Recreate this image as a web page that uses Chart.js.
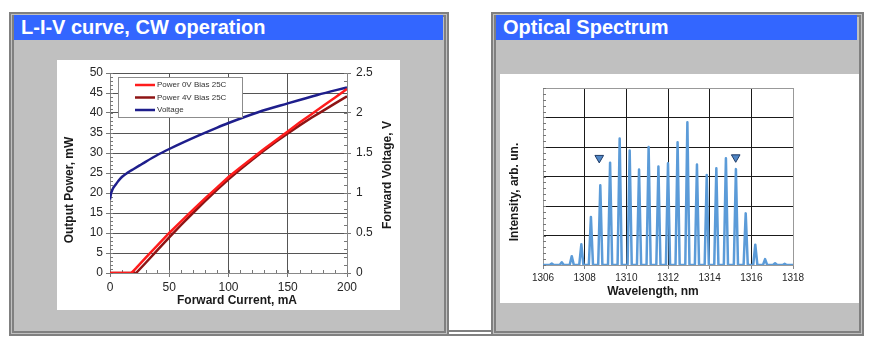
<!DOCTYPE html>
<html>
<head>
<meta charset="utf-8">
<title>Laser datasheet charts</title>
<script src="https://cdn.jsdelivr.net/npm/chart.js@4.4.1/dist/chart.umd.min.js"></script>
<style>
html, body { margin: 0; padding: 0; background: #fff; }
body { width: 872px; height: 350px; position: relative; overflow: hidden; font-family: Arial, "Liberation Sans", sans-serif; }
.frame { position: absolute; box-sizing: border-box; border: 5px double #808080; background: #c0c0c0; }
.head { position: absolute; box-sizing: border-box; height: 25px; line-height: 25px; padding-left: 7px; background: #3366ff; color: #fff; font-weight: bold; font-size: 20px; white-space: nowrap; }
.sheet { position: absolute; background: #fff; }
.gap { position: absolute; box-sizing: border-box; border-top: 2px solid #808080; border-bottom: 2px solid #808080; }
canvas { display: block; }
</style>
</head>
<body>
<div class="frame" style="left:9px;top:12px;width:440px;height:324px"></div>
<div class="head" style="left:14px;top:15px;width:429px">L-I-V curve, CW operation</div>
<div class="sheet" style="left:57px;top:60px;width:343px;height:250px"><canvas id="livChart" width="343" height="250"></canvas></div>

<div class="gap" style="left:449px;top:330px;width:42px;height:6px"></div>

<div class="frame" style="left:491px;top:12px;width:373px;height:324px"></div>
<div class="head" style="left:496px;top:15px;width:361px">Optical Spectrum</div>
<div class="sheet" style="left:500px;top:74px;width:359px;height:229px"><canvas id="spectrumChart" width="359" height="229"></canvas></div>

<script>
// L-I-V: forward current (mA) against optical power (mW) for two bias settings
var currentMA = [0, 10, 18, 20, 22, 30, 40, 50, 60, 70, 80, 90, 100, 110, 120, 130, 140, 150, 160, 170, 180, 190, 200];
var power0V = [0, 0, 0, 0.6, 1.2, 3.8, 6.9, 10, 12.9, 15.8, 18.6, 21.3, 24, 26.4, 28.7, 31, 33.2, 35.4, 37.6, 39.7, 41.8, 43.9, 46];
var power4V = [0, 0, 0, 0, 0, 2.5, 5.7, 8.9, 12, 15, 17.9, 20.7, 23.4, 25.9, 28.3, 30.6, 32.8, 34.9, 36.9, 38.8, 40.6, 42.4, 44.2];

// forward voltage (V), sampled more densely near the turn-on knee
var voltCurrentMA = [0, 1, 2, 3, 5, 7, 10, 15, 20, 25, 30, 40, 50, 60, 75, 90, 100, 125, 150, 175, 200];
var forwardVoltage = [0.92, 1.0, 1.04, 1.07, 1.11, 1.15, 1.2, 1.255, 1.3, 1.345, 1.39, 1.475, 1.55, 1.62, 1.72, 1.815, 1.875, 2.01, 2.12, 2.225, 2.32];

var livLabels = ['Power 0V Bias 25C', 'Power 4V Bias 25C', 'Voltage'];

// Optical spectrum: longitudinal modes (nm) and their relative intensity
var peakWavelengthNm = [1306.42, 1306.90, 1307.38, 1307.84, 1308.30, 1308.75, 1309.22, 1309.68, 1310.16, 1310.61, 1311.07, 1311.54, 1312.00,
	1312.46, 1312.93, 1313.39, 1313.86, 1314.32, 1314.78, 1315.26, 1315.73, 1316.19, 1316.66, 1317.14, 1317.60];
var peakIntensity = [0.05, 0.09, 0.3, 0.7, 1.63, 2.7, 3.47, 4.29, 3.88, 3.24, 4.0, 3.34, 3.45,
	4.16, 4.84, 3.41, 3.05, 3.28, 3.62, 3.25, 1.75, 0.69, 0.2, 0.06, 0.04];

// the two down-pointing markers above the spectrum
var markerWavelengthNm = [1308.70, 1315.25];
var markerIntensity = [3.63, 3.65];

var wavelengthTicks = ['1306', '1308', '1310', '1312', '1314', '1316', '1318'];

Chart.defaults.font.family = 'Arial, "Liberation Sans", sans-serif';
Chart.defaults.color = '#262626';

function toPoints(xs, ys) {
	return xs.map(function(x, i) {
		return { x: x, y: ys[i] };
	});
}

// small inward ticks between the labelled ones
var minorTicks = {
	id: 'minorTicks',
	beforeDatasetsDraw: function(chart, args, opts) {
		var ctx = chart.ctx;
		ctx.save();
		ctx.strokeStyle = opts.color || '#666';
		ctx.lineWidth = 1;
		(opts.axes || []).forEach(function(a) {
			var scale = chart.scales[a.axis];
			ctx.beginPath();
			for (var k = 0; ; k++) {
				var v = scale.min + k * a.step;
				if (v > scale.max + 1e-9) break;
				var p = Math.round(scale.getPixelForValue(v)) + 0.5;
				if (scale.position === 'left') {
					ctx.moveTo(scale.right, p); ctx.lineTo(scale.right + a.len, p);
				} else if (scale.position === 'right') {
					ctx.moveTo(scale.left, p); ctx.lineTo(scale.left - a.len, p);
				} else {
					ctx.moveTo(p, scale.top); ctx.lineTo(p, scale.top - a.len);
				}
			}
			ctx.stroke();
		});
		ctx.restore();
	}
};

// outline round the plot area
var plotFrame = {
	id: 'plotFrame',
	beforeDatasetsDraw: function(chart, args, opts) {
		if (!opts.color) return;
		var a = chart.chartArea, ctx = chart.ctx;
		ctx.save();
		ctx.strokeStyle = opts.color;
		ctx.lineWidth = 1;
		ctx.strokeRect(Math.round(a.left) + 0.5, Math.round(a.top) + 0.5, Math.round(a.right - a.left), Math.round(a.bottom - a.top));
		ctx.restore();
	}
};

// axis captions, placed freely
var captions = {
	id: 'captions',
	afterDraw: function(chart, args, opts) {
		var ctx = chart.ctx;
		ctx.save();
		ctx.font = 'bold 12px Arial, "Liberation Sans", sans-serif';
		ctx.fillStyle = '#1a1a1a';
		ctx.textAlign = 'center';
		ctx.textBaseline = 'middle';
		(opts.items || []).forEach(function(it) {
			ctx.save();
			ctx.translate(it.x, it.y);
			if (it.rotate) ctx.rotate(it.rotate * Math.PI / 180);
			ctx.fillText(it.text, 0, 0);
			ctx.restore();
		});
		ctx.restore();
	}
};

// boxed legend sitting inside the plot
var insetLegend = {
	id: 'insetLegend',
	afterDraw: function(chart, args, opts) {
		if (!opts.box) return;
		var ctx = chart.ctx, b = opts.box;
		ctx.save();
		ctx.fillStyle = '#fff';
		ctx.fillRect(b.x, b.y, b.w, b.h);
		ctx.strokeStyle = '#8c8c8c';
		ctx.lineWidth = 1;
		ctx.strokeRect(b.x + 0.5, b.y + 0.5, b.w, b.h);
		ctx.font = '8px Arial, "Liberation Sans", sans-serif';
		ctx.textBaseline = 'middle';
		chart.data.datasets.forEach(function(ds, i) {
			var y = b.y + opts.firstRow + i * opts.rowHeight;
			ctx.strokeStyle = ds.borderColor;
			ctx.lineWidth = 2.5;
			ctx.beginPath();
			ctx.moveTo(b.x + opts.swatchStart, y);
			ctx.lineTo(b.x + opts.swatchStart + opts.swatchLength, y);
			ctx.stroke();
			ctx.fillStyle = '#333';
			ctx.fillText(ds.label, b.x + opts.swatchStart + opts.swatchLength + 2, y);
		});
		ctx.restore();
	}
};

new Chart(document.getElementById('livChart'), {
	type: 'line',
	data: {
		datasets: [{
			label: livLabels[0],
			data: toPoints(currentMA, power0V),
			borderColor: '#ff1c1c',
			yAxisID: 'y'
		}, {
			label: livLabels[1],
			data: toPoints(currentMA, power4V),
			borderColor: '#8e1414',
			yAxisID: 'y'
		}, {
			label: livLabels[2],
			data: toPoints(voltCurrentMA, forwardVoltage),
			borderColor: '#1e1e8c',
			cubicInterpolationMode: 'monotone',
			yAxisID: 'y2'
		}]
	},
	options: {
		responsive: false,
		animation: false,
		layout: { padding: { top: 13, left: 0, right: 0, bottom: 0 } },
		elements: {
			point: { radius: 0 },
			line: { borderWidth: 2.5, fill: false }
		},
		plugins: {
			legend: { display: false },
			tooltip: { enabled: false },
			minorTicks: {
				color: '#777',
				axes: [
					{ axis: 'y', step: 1, len: 3 },
					{ axis: 'y2', step: 0.1, len: 3 },
					{ axis: 'x', step: 10, len: 3 }
				]
			},
			captions: {
				items: [
					{ text: 'Forward Current, mA', x: 180, y: 241 },
					{ text: 'Output Power, mW', x: 13, y: 130, rotate: -90 },
					{ text: 'Forward Voltage, V', x: 331, y: 115, rotate: -90 }
				]
			},
			insetLegend: {
				box: { x: 61, y: 17, w: 124, h: 40 },
				firstRow: 8,
				rowHeight: 12.5,
				swatchStart: 17,
				swatchLength: 20
			}
		},
		scales: {
			x: {
				type: 'linear',
				min: 0,
				max: 200,
				ticks: { stepSize: 50, padding: 3, font: { size: 12 } },
				grid: { color: '#555', tickColor: '#777', tickLength: 4 },
				border: { color: '#888' },
				afterFit: function(s) { s.height = 37; }
			},
			y: {
				min: 0,
				max: 50,
				ticks: { stepSize: 5, padding: 3, font: { size: 12 } },
				grid: { color: '#555', tickColor: '#777', tickLength: 4 },
				border: { color: '#888' },
				afterFit: function(s) { s.width = 53; }
			},
			y2: {
				position: 'right',
				min: 0,
				max: 2.5,
				ticks: {
					stepSize: 0.5,
					padding: 5,
					font: { size: 12 },
					callback: function(v) { return String(Math.round(v * 10) / 10); }
				},
				grid: { drawOnChartArea: false, tickColor: '#777', tickLength: 4 },
				border: { color: '#888' },
				afterFit: function(s) { s.width = 53; }
			}
		}
	},
	plugins: [minorTicks, captions, insetLegend]
});

// spectrum trace: each mode rises from the floor to its peak and back
var modeHalfBaseNm = 0.1;
var spectrumTrace = [{ x: 1306, y: 0 }];
peakWavelengthNm.forEach(function(w, i) {
	spectrumTrace.push({ x: w - modeHalfBaseNm, y: 0 }, { x: w, y: peakIntensity[i] }, { x: w + modeHalfBaseNm, y: 0 });
});
spectrumTrace.push({ x: 1318, y: 0 });

var wlMin = Number(wavelengthTicks[0]);
var wlMax = Number(wavelengthTicks[wavelengthTicks.length - 1]);

function innerGrid(ctx) {
	var s = ctx.scale;
	return (ctx.tick.value <= s.min || ctx.tick.value >= s.max) ? 'rgba(0,0,0,0)' : '#1a1a1a';
}

new Chart(document.getElementById('spectrumChart'), {
	type: 'line',
	data: {
		datasets: [{
			label: 'Spectrum',
			data: spectrumTrace,
			borderColor: '#5b9bd8',
			borderWidth: 2.5,
			borderJoinStyle: 'round',
			pointRadius: 0,
			order: 2
		}, {
			label: 'Markers',
			data: toPoints(markerWavelengthNm, markerIntensity),
			showLine: false,
			pointStyle: 'triangle',
			rotation: 180,
			pointRadius: 5,
			pointBackgroundColor: '#4f86c6',
			pointBorderColor: '#1f3b66',
			pointBorderWidth: 1,
			order: 1
		}]
	},
	options: {
		responsive: false,
		animation: false,
		layout: { padding: { top: 14, left: 0, right: 66, bottom: 0 } },
		plugins: {
			legend: { display: false },
			tooltip: { enabled: false },
			plotFrame: { color: '#999' },
			minorTicks: {
				color: '#777',
				axes: [{ axis: 'y', step: 0.2, len: 3 }]
			},
			captions: {
				items: [
					{ text: 'Intensity, arb. un.', x: 15, y: 118, rotate: -90 },
					{ text: 'Wavelength, nm', x: 153, y: 218 }
				]
			}
		},
		scales: {
			x: {
				type: 'linear',
				min: wlMin,
				max: wlMax,
				ticks: {
					stepSize: 2,
					padding: 3,
					font: { size: 10 },
					callback: function(v) { return wavelengthTicks.indexOf(String(v)) >= 0 ? String(v) : ''; }
				},
				grid: { color: innerGrid, lineWidth: 1, tickColor: '#888', tickLength: 4 },
				border: { color: '#999' },
				afterFit: function(s) { s.height = 38; }
			},
			y: {
				min: 0,
				max: 6,
				ticks: { stepSize: 1, display: false },
				grid: { color: innerGrid, lineWidth: 1, drawTicks: false },
				border: { color: '#999' },
				afterFit: function(s) { s.width = 43; }
			}
		}
	},
	plugins: [plotFrame, minorTicks, captions]
});
</script>
</body>
</html>
